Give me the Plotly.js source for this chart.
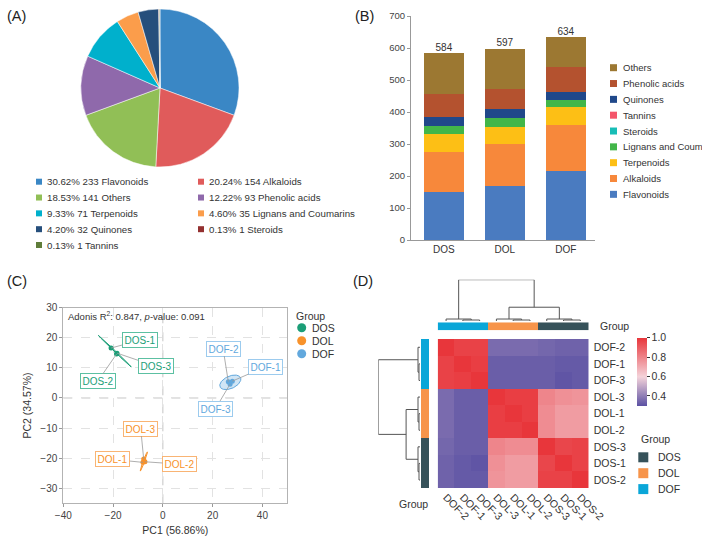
<!DOCTYPE html>
<html><head><meta charset="utf-8">
<script src="https://cdn.plot.ly/plotly-3.0.1.min.js"></script>
<style>html,body{margin:0;padding:0;background:#fff}</style>
</head><body><div id="chart" style="width:702px;height:540px"></div>
<script>
// ===== Panel A data =====
const pieLabels = ['Flavonoids','Alkaloids','Others','Phenolic acids','Terpenoids','Lignans and Coumarins','Quinones','Steroids','Tannins'];
const pieCounts = [233,154,141,93,71,35,32,1,1];
const pieColors = ['#3a87c5','#e05b5b','#91bf56','#8f69ab','#00b0cc','#fb9d4b','#264f7c','#933030','#5f7d3a'];

// ===== Panel B data =====
const barSamples = ['DOS','DOL','DOF'];
const barClasses = ['Flavonoids','Alkaloids','Terpenoids','Lignans and Coumarins','Steroids','Tannins','Quinones','Phenolic acids','Others'];
const flavonoidsCount = [150,169,217];
const alkaloidsCount  = [124,130,142];
const terpenoidsCount = [58,53,56];
const lignansCount    = [23,28,22];
const steroidsCount   = [1,1,1];
const tanninsCount    = [1,1,1];
const quinonesCount   = [27,27,22];
const phenolicCount   = [72,62,79];
const othersCount     = [128,126,94];
const barColors = ['#4a7bc0','#f7883b','#fdbf15','#42b649','#17bdb6','#f4566b','#20488a','#b4522f','#9c7832'];

// ===== Panel C data =====
const pcaSamples = ['DOS-1','DOS-2','DOS-3','DOL-1','DOL-2','DOL-3','DOF-1','DOF-2','DOF-3'];
const pc1 = [-20.8,-18.6,-18.4,-8.0,-7.2,-7.7,27.9,26.3,27.0];
const pc2 = [16.6,14.6,14.9,-21.4,-21.2,-20.3,5.6,5.4,4.6];
const pcaGroups = ['DOS','DOL','DOF'];
const ellCx = [-19.3,-7.65,27.1];
const ellCy = [15.55,-21.1,5.2];
const ellA = [8.43,3.5,4.4];
const ellB = [0.2,0.3,2.1];
const ellAngle = [-38.5,65.6,18];
const pc1Var = 56.86, pc2Var = 34.57, adonisR2 = 0.847, adonisP = 0.091;

// ===== Panel D data =====
const hmLabels = ['DOF-2','DOF-1','DOF-3','DOL-3','DOL-1','DOL-2','DOS-3','DOS-1','DOS-2'];
const corrMatrix = [
 [1.00,0.97,0.97,0.36,0.36,0.36,0.35,0.34,0.34],
 [0.97,1.00,0.98,0.33,0.33,0.33,0.33,0.32,0.32],
 [0.97,0.98,1.00,0.33,0.33,0.33,0.33,0.31,0.32],
 [0.36,0.33,0.33,1.00,0.98,0.98,0.80,0.77,0.76],
 [0.36,0.33,0.33,0.98,1.00,0.98,0.78,0.74,0.74],
 [0.36,0.33,0.33,0.98,0.98,1.00,0.78,0.74,0.74],
 [0.35,0.33,0.33,0.80,0.78,0.78,1.00,0.96,0.97],
 [0.34,0.32,0.31,0.77,0.74,0.74,0.96,1.00,0.97],
 [0.34,0.32,0.32,0.76,0.74,0.74,0.97,0.97,1.00]
];
const dendMerge = [[-2,-3],[-1,1],[-5,-6],[-4,3],[-8,-9],[-7,5],[4,6],[2,7]];
const dendHeight = [0.015,0.03,0.015,0.03,0.015,0.03,0.21,0.63];
const hmGroups = ['DOS','DOL','DOF'];

// ===== styling =====
const FONT = '"Liberation Sans", Arial, sans-serif';
const W = 702, H = 540;
const px = v => v / W, py = v => 1 - v / H;
const groupColorsC = ['#1b9e77','#f8922b','#62a8dd'];
const groupBorderC = ['#5cc0a2','#f9b474','#9ccbee'];
const groupColorsD = ['#36525a','#f7944a','#0aa6d8'];

const traces = [];
const shapes = [];
const annotations = [];

// ---------- Panel A: pie ----------
traces.push({
  type:'pie', labels: pieLabels, values: pieCounts, sort:false, direction:'clockwise', rotation:0,
  textinfo:'none', hoverinfo:'skip', showlegend:false,
  marker:{colors: pieColors, line:{color:'#ffffff', width:0.5}},
  domain:{x:[px(81),px(239)], y:[py(167),py(9)]}
});
const pieTotal = pieCounts.reduce((a,b)=>a+b,0);
pieLabels.forEach((lab,i)=>{
  const col = i % 2, row = Math.floor(i/2);
  const sx = col === 0 ? 36 : 198;
  const cy = 181.7 + row*15.83;
  shapes.push({type:'rect', xref:'paper', yref:'paper', x0:px(sx), x1:px(sx+6), y0:py(cy+3), y1:py(cy-3),
    fillcolor: pieColors[i], line:{width:0}});
  annotations.push({xref:'paper', yref:'paper', x:px(sx+9), y:py(cy), xanchor:'left', yanchor:'middle', showarrow:false,
    text: (100*pieCounts[i]/pieTotal).toFixed(2) + '% ' + pieCounts[i] + ' ' + lab,
    font:{size:9.7, color:'#333', family:FONT}});
});

// ---------- Panel B: stacked bars ----------
const classValues = [flavonoidsCount, alkaloidsCount, terpenoidsCount, lignansCount, steroidsCount, tanninsCount, quinonesCount, phenolicCount, othersCount];
barClasses.forEach((cls,k)=>{
  traces.push({type:'bar', x: barSamples, y: classValues[k], name: cls, marker:{color: barColors[k], line:{width:0}},
    xaxis:'x', yaxis:'y', showlegend:false, hoverinfo:'skip'});
});
const barTotals = barSamples.map((s,i)=>classValues.reduce((a,arr)=>a+arr[i],0));
traces.push({type:'scatter', mode:'text', x: barSamples, y: barTotals, text: barTotals.map(String),
  textposition:'top center', textfont:{size:10, color:'#333', family:FONT}, xaxis:'x', yaxis:'y',
  showlegend:false, hoverinfo:'skip', cliponaxis:false});
// legend B (reversed stack order)
barClasses.slice().reverse().forEach((cls,j)=>{
  const k = barClasses.length - 1 - j;
  const cy = 67.7 + j*15.83;
  shapes.push({type:'rect', xref:'paper', yref:'paper', x0:px(610), x1:px(617), y0:py(cy+3.5), y1:py(cy-3.5),
    fillcolor: barColors[k], line:{width:0}});
  annotations.push({xref:'paper', yref:'paper', x:px(620.5), y:py(cy), xanchor:'left', yanchor:'middle', showarrow:false,
    text: cls, font:{size:9.5, color:'#333', family:FONT}});
});

// ---------- Panel C: PCA ----------
function ellipsePts(cx, cy, a, b, angDeg){
  const th = angDeg*Math.PI/180, xs=[], ys=[];
  for (let t=0; t<=360; t+=4){
    const r = t*Math.PI/180;
    xs.push(cx + a*Math.cos(r)*Math.cos(th) - b*Math.sin(r)*Math.sin(th));
    ys.push(cy + a*Math.cos(r)*Math.sin(th) + b*Math.sin(r)*Math.cos(th));
  }
  return {xs, ys};
}
function rgba(hex, a){
  const n = parseInt(hex.slice(1),16);
  return 'rgba('+((n>>16)&255)+','+((n>>8)&255)+','+(n&255)+','+a+')';
}
pcaGroups.forEach((g,gi)=>{
  const e = ellipsePts(ellCx[gi], ellCy[gi], ellA[gi], ellB[gi], ellAngle[gi]);
  traces.push({type:'scatter', mode:'lines', x:e.xs, y:e.ys, fill:'toself',
    fillcolor: rgba(groupColorsC[gi], 0.3), line:{color: groupColorsC[gi], width:1},
    xaxis:'x2', yaxis:'y2', showlegend:false, hoverinfo:'skip'});
});
pcaGroups.forEach((g,gi)=>{
  const idx = pcaSamples.map((s,i)=>s.startsWith(g)?i:-1).filter(i=>i>=0);
  traces.push({type:'scatter', mode:'markers', x: idx.map(i=>pc1[i]), y: idx.map(i=>pc2[i]),
    marker:{size:5, color: groupColorsC[gi]}, xaxis:'x2', yaxis:'y2', showlegend:false, hoverinfo:'skip'});
});
// label box positions (layout)
const labelX = [-9.2,-26.2,-2.8,-20.1,6.7,-8.9,41.3,24.2,21.2];
const labelY = [19.2,5.5,10.5,-20.4,-22.0,-10.2,10.4,16.4,-3.5];
pcaSamples.forEach((s,i)=>{
  const gi = pcaGroups.indexOf(s.slice(0,3));
  annotations.push({xref:'x2', yref:'y2', x: pc1[i], y: pc2[i], axref:'x2', ayref:'y2', ax: labelX[i], ay: labelY[i],
    text: s, showarrow:true, arrowhead:0, arrowwidth:0.8, arrowcolor:'#999', standoff:0,
    bgcolor:'#ffffff', bordercolor: groupBorderC[gi], borderwidth:1, borderpad:1.5,
    font:{size:10, color: groupColorsC[gi], family:FONT}});
});
annotations.push({xref:'x2', yref:'y2', x:-39, y:27.3, xanchor:'left', yanchor:'middle', showarrow:false,
  text:'Adonis R<sup>2</sup>: ' + adonisR2.toFixed(3) + ', <i>p</i>-value: ' + adonisP.toFixed(3),
  font:{size:9.5, color:'#333', family:FONT}});
shapes.push({type:'line', xref:'x2', yref:'y2 domain', x0:0, x1:0, y0:0, y1:1, layer:'below', line:{color:'#c4c4c4', width:1, dash:'dash'}});
shapes.push({type:'line', xref:'x2 domain', yref:'y2', x0:0, x1:1, y0:0, y1:0, layer:'below', line:{color:'#c4c4c4', width:1, dash:'dash'}});
// legend C
annotations.push({xref:'paper', yref:'paper', x:px(294), y:py(316), xanchor:'left', yanchor:'middle', showarrow:false,
  text:'Group', font:{size:10.5, color:'#333', family:FONT}});
pcaGroups.forEach((g,gi)=>{
  const cy = 327.7 + gi*13;
  shapes.push({type:'circle', xref:'paper', yref:'paper', x0:px(297.2), x1:px(306.2), y0:py(cy+4.5), y1:py(cy-4.5),
    fillcolor: groupColorsC[gi], line:{width:0}});
  annotations.push({xref:'paper', yref:'paper', x:px(310), y:py(cy), xanchor:'left', yanchor:'middle', showarrow:false,
    text:g, font:{size:10.5, color:'#333', family:FONT}});
});

// ---------- Panel D: heatmap ----------
const idx9 = hmLabels.map((_,i)=>i);
const groupIdx = hmLabels.map(l=>hmGroups.indexOf(l.slice(0,3)));
traces.push({type:'heatmap', z: corrMatrix, x: idx9, y: idx9, xaxis:'x3', yaxis:'y3', zmin:0.3, zmax:1.0,
  colorscale:[[0,'#5b51a3'],[0.4286,'#f4d3da'],[1,'#e8363b']], hoverinfo:'skip',
  colorbar:{x:px(637.3), xanchor:'left', y:py(337.7), yanchor:'top', len:67.7, lenmode:'pixels',
    thickness:9.5, thicknessmode:'pixels', outlinewidth:0, xpad:0, ypad:0,
    ticks:'outside', ticklen:3, tickcolor:'#333', tickvals:[0.4,0.6,0.8,1.0], ticktext:['0.4','0.6','0.8','1.0'],
    tickfont:{size:10.5, color:'#333', family:FONT}}});
const discreteScale = [[0,groupColorsD[0]],[0.3333,groupColorsD[0]],[0.3333,groupColorsD[1]],[0.6667,groupColorsD[1]],[0.6667,groupColorsD[2]],[1,groupColorsD[2]]];
traces.push({type:'heatmap', z:[groupIdx], x: idx9, y:[0], xaxis:'x3', yaxis:'y6', zmin:0, zmax:2,
  colorscale: discreteScale, showscale:false, hoverinfo:'skip'});
traces.push({type:'heatmap', z: groupIdx.map(v=>[v]), x:[0], y: idx9, xaxis:'x7', yaxis:'y3', zmin:0, zmax:2,
  colorscale: discreteScale, showscale:false, hoverinfo:'skip'});
function dendro(merge, heights){
  const pos=[], hs=[], ps=[], hh=[];
  const nodePos = k => k<0 ? -k-1 : pos[k-1];
  const nodeH = k => k<0 ? 0 : hs[k-1];
  merge.forEach((m,i)=>{
    const pa=nodePos(m[0]), pb=nodePos(m[1]), ha=nodeH(m[0]), hb=nodeH(m[1]), h=heights[i];
    ps.push(pa,pa,pb,pb,null); hh.push(ha,h,h,hb,null);
    pos.push((pa+pb)/2); hs.push(h);
  });
  return {p:ps, h:hh};
}
const dd = dendro(dendMerge, dendHeight);
const maxH = Math.max(...dendHeight);
traces.push({type:'scatter', mode:'lines', x: dd.p, y: dd.h, xaxis:'x3', yaxis:'y4', line:{color:'#555', width:1},
  showlegend:false, hoverinfo:'skip', connectgaps:false});
traces.push({type:'scatter', mode:'lines', x: dd.h, y: dd.p, xaxis:'x5', yaxis:'y3', line:{color:'#555', width:1},
  showlegend:false, hoverinfo:'skip', connectgaps:false});
annotations.push({xref:'paper', yref:'paper', x:px(597.5), y:py(326), xanchor:'left', yanchor:'middle', showarrow:false,
  text:'Group', font:{size:10.5, color:'#333', family:FONT}});
annotations.push({xref:'paper', yref:'paper', x:px(429.5), y:py(503.5), xanchor:'right', yanchor:'middle', showarrow:false,
  text:'Group', font:{size:10.5, color:'#333', family:FONT}});
annotations.push({xref:'paper', yref:'paper', x:px(638.5), y:py(438.5), xanchor:'left', yanchor:'middle', showarrow:false,
  text:'Group', font:{size:10.5, color:'#333', family:FONT}});
hmGroups.forEach((g,gi)=>{
  const cy = 457.3 + gi*15.9;
  shapes.push({type:'rect', xref:'paper', yref:'paper', x0:px(638.3), x1:px(648.3), y0:py(cy+5), y1:py(cy-5),
    fillcolor: groupColorsD[gi], line:{width:0}});
  annotations.push({xref:'paper', yref:'paper', x:px(655.5), y:py(cy), xanchor:'left', yanchor:'middle', showarrow:false,
    text:g, font:{size:10.5, color:'#333', family:FONT}});
});

// ---------- panel tags ----------
[['(A)',5,16],['(B)',353,16],['(C)',5,281],['(D)',351,281]].forEach(t=>{
  annotations.push({xref:'paper', yref:'paper', x:px(t[1]), y:py(t[2]), xanchor:'left', yanchor:'middle', showarrow:false,
    text:t[0], font:{size:14.5, color:'#222', family:FONT}});
});

const hidden = {visible:false, showgrid:false, zeroline:false, fixedrange:true};
const layout = {
  width:W, height:H, margin:{l:0,r:0,t:0,b:0, autoexpand:false}, paper_bgcolor:'#fff', plot_bgcolor:'rgba(0,0,0,0)',
  showlegend:false, hovermode:false, barmode:'stack', bargap:0.344,
  font:{family:FONT, color:'#333', size:10},
  xaxis:{domain:[px(411),px(595)], anchor:'y', type:'category', range:[-0.54,2.48], showline:true, linecolor:'#999', linewidth:1,
    ticks:'', showgrid:false, zeroline:false, tickfont:{size:10, color:'#333'}},
  yaxis:{domain:[py(240),py(16)], anchor:'x', range:[0,700], dtick:100, showline:true, linecolor:'#999', linewidth:1,
    ticks:'outside', ticklen:3, tickcolor:'#999', showgrid:false, zeroline:false, tickfont:{size:9.5, color:'#444'}},
  xaxis2:{domain:[px(63.3),px(287.3)], anchor:'y2', range:[-40,50], tickvals:[-40,-20,0,20,40], showline:true, mirror:true,
    linecolor:'#b3b3b3', linewidth:1, ticks:'outside', ticklen:3, tickcolor:'#999', showgrid:true, gridcolor:'#e2e2e2',
    griddash:'dash', gridwidth:1, zeroline:false, tickfont:{size:10, color:'#444'},
    title:{text:'PC1 (' + pc1Var.toFixed(2) + '%)', font:{size:10.5, color:'#333'}, standoff:6}},
  yaxis2:{domain:[py(503.3),py(307.7)], anchor:'x2', range:[-35,30], tickvals:[-30,-20,-10,0,10,20,30], showline:true, mirror:true,
    linecolor:'#b3b3b3', linewidth:1, ticks:'outside', ticklen:3, tickcolor:'#999', showgrid:true, gridcolor:'#e2e2e2',
    griddash:'dash', gridwidth:1, zeroline:false, tickfont:{size:10, color:'#444'},
    title:{text:'PC2 (' + pc2Var.toFixed(2) + '%)', font:{size:10.5, color:'#333'}, standoff:6}},
  xaxis3:{domain:[px(437.7),px(588.7)], anchor:'y3', range:[-0.5,8.5], tickvals: idx9, ticktext: hmLabels, tickangle:45,
    ticks:'', showline:false, showgrid:false, zeroline:false, tickfont:{size:10.5, color:'#333'}},
  yaxis3:{domain:[py(488.3),py(339)], anchor:'x3', side:'right', range:[8.5,-0.5], tickvals: idx9, ticktext: hmLabels,
    ticks:'', showline:false, showgrid:false, zeroline:false, ticklabelstandoff:4, tickfont:{size:10.5, color:'#333'}},
  yaxis4: Object.assign({domain:[py(321),py(279.7)], anchor:'x3', range:[0,maxH]}, hidden),
  xaxis5: Object.assign({domain:[px(378.3),px(420)], anchor:'y3', range:[maxH,0]}, hidden),
  yaxis6: Object.assign({domain:[py(330.3),py(322.3)], anchor:'x3', range:[-0.5,0.5]}, hidden),
  xaxis7: Object.assign({domain:[px(421),px(429.3)], anchor:'y3', range:[-0.5,0.5]}, hidden),
  shapes: shapes, annotations: annotations
};
Plotly.newPlot('chart', traces, layout, {displayModeBar:false, staticPlot:true});
</script></body></html>
